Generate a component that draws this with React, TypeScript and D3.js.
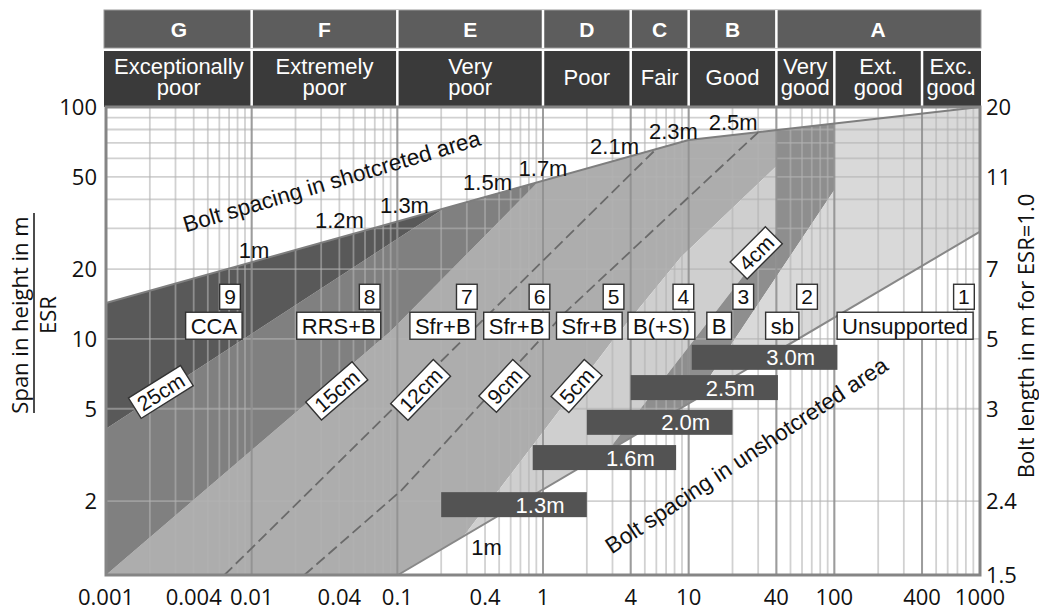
import React, { useRef, useEffect } from 'react';
import * as d3 from 'd3';

type Pt = [number, number];

// axes
const qTicks = [0.001, 0.004, 0.01, 0.04, 0.1, 0.4, 1, 4, 10, 40, 100, 400, 1000];
const spanTicks = [100, 50, 20, 10, 5, 2];
const spanGrid = [2, 5, 10, 20, 30, 40, 50, 60, 70, 80, 90, 100];
const boltLengthLabels = ['20', '11', '7', '5', '3', '2.4', '1.5'];
const boltLengthSpans = [100, 50, 20, 10, 5, 2, 0.96];

// rock mass classes (header)
const classLetters = ['G', 'F', 'E', 'D', 'C', 'B', 'A'];
const classBounds = [0.001, 0.01, 0.1, 1, 4, 10, 40, 1000];
const qualityNames = [
  ['Exceptionally', 'poor'], ['Extremely', 'poor'], ['Very', 'poor'], ['Poor'], ['Fair'],
  ['Good'], ['Very', 'good'], ['Ext.', 'good'], ['Exc.', 'good'],
];
const qualityBounds = [0.001, 0.01, 0.1, 1, 4, 10, 40, 100, 400, 1000];

// boundary lines  [Q, span/ESR]
const topLine: Pt[] = [[0.001, 14.3], [10, 72], [1000, 100]];
const lowerLine: Pt[] = [[0.101, 0.96], [1000, 29]];
const line12cm: Pt[] = [[0.0065, 0.96], [6, 66]];
const line9cm: Pt[] = [[0.023, 0.96], [0.107, 2.23], [1.4, 12.9], [30, 77.8]];

// support zones
const zoneCCA: Pt[] = [[0.001, 14.3], [0.21, 36.6], [0.001, 4.1]];
const zoneRRS: Pt[] = [[0.001, 4.1], [0.21, 36.6], [0.93, 47.6], [0.09, 10.8], [0.001, 0.96]];
const zoneSfr: Pt[] = [
  [0.001, 0.96], [0.09, 10.8], [0.93, 47.6], [10, 72], [40, 79.5], [40, 55.5],
  [8.9, 22.6], [2.95, 9.7], [0.285, 1.41], [0.101, 0.96],
];
const zoneBS: Pt[] = [[0.285, 1.41], [2.95, 9.7], [8.9, 22.6], [40, 55.5], [40, 28.6], [10.9, 9.93], [2.75, 3.26]];
const zoneB: Pt[] = [[40, 79.5], [100, 84.8], [100, 43.9], [20.6, 9.93], [10.8, 5.4], [2.75, 3.26], [10.9, 9.93], [40, 28.6]];
const zoneSb: Pt[] = [[100, 84.8], [1000, 100], [1000, 29], [10.8, 5.4], [20.6, 9.93], [100, 43.9]];

// bolt spacing in shotcreted area (along top line)
const shotSpacingLabels = ['1m', '1.2m', '1.3m', '1.5m', '1.7m', '2.1m', '2.3m', '2.5m'];
const shotSpacingQ = [0.0104, 0.04, 0.112, 0.416, 1.0, 3.1, 7.85, 20.2];
const shotSpacingSpan = [24.2, 32.6, 37.8, 47.5, 54.6, 67.9, 78.8, 86.2];

// bolt spacing in unshotcreted area (bars)
const barLabels = ['1.3m', '1.6m', '2.0m', '2.5m', '3.0m'];
const barFromQ = [0.2, 0.85, 2, 4, 10.5];
const barToQ = [2, 8.2, 20, 41, 105];
const barSpan = [1.93, 3.08, 4.37, 6.17, 8.33];

// support categories
const supportNumbers = ['9', '8', '7', '6', '5', '4', '3', '2', '1'];
const supportNumberQ = [0.0071, 0.0646, 0.3, 0.946, 3.05, 9.2, 23.7, 65, 776];
const supportCodes = ['CCA', 'RRS+B', 'Sfr+B', 'Sfr+B', 'Sfr+B', 'B(+S)', 'B', 'sb', 'Unsupported'];
const supportCodeQ = [0.0055, 0.0396, 0.205, 0.658, 2.08, 6.5, 16.2, 43.9, 306];

// shotcrete thickness
const shotcreteLabels = ['25cm', '15cm', '12cm', '9cm', '5cm', '4cm'];
const shotcreteQ = [0.00238, 0.0384, 0.1445, 0.545, 1.7, 29.1];
const shotcreteSpan = [5.91, 5.97, 6.03, 6.27, 6.27, 23.5];
const shotcreteAngle = [-32, -41, -46, -47, -48, -45];

const SANS = '"Liberation Sans", Arial, sans-serif';
const AXIS = '"Open Sans", sans-serif';

const App: React.FC = () => {
  const svgRef = useRef<SVGSVGElement>(null);

  useEffect(() => {
    if (!svgRef.current) return;
    const svg = d3.select(svgRef.current);
    svg.selectAll('*').remove();

    const x = d3.scaleLog().domain([0.001, 1000]).range([106, 980]);
    const y = d3.scaleLog().domain([0.96, 100]).range([575, 107]);
    const [x0, x1] = x.range();
    const yTop = y(100);
    const yBot = y(0.96);
    const path = d3.line<Pt>().x(d => x(d[0])).y(d => y(d[1]));

    // ---- header
    const hdr = svg.append('g');
    hdr.append('rect').attr('x', x0 - 2).attr('y', 10).attr('width', x1 - x0 + 3).attr('height', 38)
      .attr('fill', '#5d5d5d').attr('stroke', '#9a9a9a').attr('stroke-width', 1);
    hdr.append('rect').attr('x', x0 - 2).attr('y', 51).attr('width', x1 - x0 + 3).attr('height', 56)
      .attr('fill', '#3a3a3a');
    classBounds.slice(1, -1).forEach(b => {
      hdr.append('line').attr('x1', x(b)).attr('x2', x(b)).attr('y1', 10).attr('y2', 48)
        .attr('stroke', '#fff').attr('stroke-width', 2.5);
    });
    qualityBounds.slice(1, -1).forEach(b => {
      hdr.append('line').attr('x1', x(b)).attr('x2', x(b)).attr('y1', 51).attr('y2', 107)
        .attr('stroke', '#fff').attr('stroke-width', 2.5);
    });
    classLetters.forEach((c, i) => {
      hdr.append('text').attr('x', (x(classBounds[i]) + x(classBounds[i + 1])) / 2).attr('y', 37)
        .attr('text-anchor', 'middle').attr('fill', '#fff').attr('font-family', SANS)
        .attr('font-weight', 'bold').attr('font-size', 21).text(c);
    });
    qualityNames.forEach((lines, i) => {
      const cx = (x(qualityBounds[i]) + x(qualityBounds[i + 1])) / 2;
      const ys = lines.length === 1 ? [85] : [74, 95];
      lines.forEach((s, j) => {
        hdr.append('text').attr('x', cx).attr('y', ys[j]).attr('text-anchor', 'middle')
          .attr('fill', '#fff').attr('font-family', SANS).attr('font-size', 22).text(s);
      });
    });

    // ---- plot area
    const plot = svg.append('g');
    plot.append('rect').attr('x', x0).attr('y', yTop).attr('width', x1 - x0).attr('height', yBot - yTop)
      .attr('fill', '#fff');

    const zones: [Pt[], string][] = [
      [zoneSfr, '#adadad'], [zoneRRS, '#808080'], [zoneCCA, '#595959'],
      [zoneBS, '#cfcfcf'], [zoneB, '#8e8e8e'], [zoneSb, '#d9d9d9'],
    ];
    zones.forEach(([pts, color]) => {
      plot.append('path').attr('d', path(pts) + 'Z').attr('fill', color);
    });

    // grid
    const qGrid: number[] = [];
    for (let e = -3; e < 3; e++) for (let k = 1; k < 10; k++) qGrid.push(k * Math.pow(10, e));
    qGrid.push(1000);
    const grid = plot.append('g').attr('stroke', '#b3b3b3').attr('stroke-opacity', 0.6).attr('stroke-width', 1.8);
    qGrid.forEach(q => {
      grid.append('line').attr('x1', x(q)).attr('x2', x(q)).attr('y1', yTop).attr('y2', yBot);
    });
    spanGrid.forEach(s => {
      grid.append('line').attr('x1', x0).attr('x2', x1).attr('y1', y(s)).attr('y2', y(s));
    });
    qualityBounds.slice(1, -1).forEach(b => {
      plot.append('line').attr('x1', x(b)).attr('x2', x(b)).attr('y1', yTop).attr('y2', yBot)
        .attr('stroke', '#8a8a8a').attr('stroke-opacity', 0.75).attr('stroke-width', 2);
    });

    // boundary lines
    plot.append('path').attr('d', path(topLine)).attr('fill', 'none').attr('stroke', '#7e7e7e').attr('stroke-width', 2);
    plot.append('path').attr('d', path(lowerLine)).attr('fill', 'none').attr('stroke', '#888').attr('stroke-width', 2);
    [line12cm, line9cm].forEach(l => {
      plot.append('path').attr('d', path(l)).attr('fill', 'none').attr('stroke', '#6a6a6a')
        .attr('stroke-width', 1.8).attr('stroke-dasharray', '11,5');
    });

    plot.append('rect').attr('x', x0).attr('y', yTop).attr('width', x1 - x0).attr('height', yBot - yTop)
      .attr('fill', 'none').attr('stroke', '#858585').attr('stroke-width', 3);

    // bars: bolt spacing in unshotcreted area
    barLabels.forEach((lab, i) => {
      const bx = x(barFromQ[i]);
      const bw = x(barToQ[i]) - bx;
      const cy = y(barSpan[i]);
      plot.append('rect').attr('x', bx).attr('y', cy - 12.5).attr('width', bw).attr('height', 25).attr('fill', '#535353');
      plot.append('text').attr('x', bx + bw / 2 + 26).attr('y', cy + 8).attr('text-anchor', 'middle')
        .attr('fill', '#fff').attr('font-family', SANS).attr('font-size', 22).text(lab);
    });

    // boxed labels
    const boxed = (cx: number, cy: number, txt: string, size: number, pad: number, h: number, angle = 0) => {
      const g = plot.append('g').attr('transform', `translate(${cx},${cy}) rotate(${angle})`);
      const r = g.append('rect');
      const t = g.append('text').attr('text-anchor', 'middle').attr('y', size * 0.36)
        .attr('font-family', SANS).attr('font-size', size).attr('fill', '#111').text(txt);
      const w = (t.node() as SVGTextElement).getComputedTextLength();
      r.attr('x', -w / 2 - pad).attr('y', -h / 2).attr('width', w + 2 * pad).attr('height', h)
        .attr('fill', '#fff').attr('stroke', '#333').attr('stroke-width', 1.4);
    };
    supportNumbers.forEach((n, i) => boxed(x(supportNumberQ[i]), y(15.2), n, 21, 4.5, 25));
    supportCodes.forEach((c, i) => boxed(x(supportCodeQ[i]), y(11.4), c, 22, 5, 27));
    shotcreteLabels.forEach((c, i) =>
      boxed(x(shotcreteQ[i]), y(shotcreteSpan[i]), c, 21, 5, 24, shotcreteAngle[i]));

    // spacing labels along the top line
    shotSpacingLabels.forEach((s, i) => {
      plot.append('text').attr('x', x(shotSpacingQ[i])).attr('y', y(shotSpacingSpan[i]) + 8)
        .attr('text-anchor', 'middle').attr('font-family', SANS).attr('font-size', 22).attr('fill', '#111').text(s);
    });
    plot.append('text').attr('x', x(0.41)).attr('y', y(1.27) + 8).attr('text-anchor', 'middle')
      .attr('font-family', SANS).attr('font-size', 22).attr('fill', '#111').text('1m');

    plot.append('text').attr('transform', `translate(${x(0.0356)},${y(47.5)}) rotate(-16.5)`)
      .attr('text-anchor', 'middle').attr('dy', 7).attr('font-family', SANS).attr('font-size', 22.5)
      .attr('fill', '#111').text('Bolt spacing in shotcreted area');
    plot.append('text').attr('transform', `translate(${x(25.1)},${y(3.13)}) rotate(-33.7)`)
      .attr('text-anchor', 'middle').attr('dy', 7).attr('font-family', SANS).attr('font-size', 22.5)
      .attr('fill', '#111').text('Bolt spacing in unshotcreted area');

    // ---- axes labels
    const ax = svg.append('g').attr('font-family', AXIS).attr('font-size', 22).attr('fill', '#111');
    qTicks.forEach(q => {
      ax.append('text').attr('x', x(q)).attr('y', 605).attr('text-anchor', 'middle').text(String(q));
    });
    spanTicks.forEach(s => {
      ax.append('text').attr('x', 97).attr('y', y(s) + 8).attr('text-anchor', 'end').text(String(s));
    });
    boltLengthLabels.forEach((l, i) => {
      ax.append('text').attr('x', 986).attr('y', y(boltLengthSpans[i]) + 8).text(l);
    });

    ax.append('text').attr('transform', 'translate(28,315) rotate(-90)').attr('text-anchor', 'middle')
      .text('Span in height in m');
    ax.append('line').attr('x1', 34).attr('x2', 34).attr('y1', 213).attr('y2', 413)
      .attr('stroke', '#111').attr('stroke-width', 1.5);
    ax.append('text').attr('transform', 'translate(56,315) rotate(-90)').attr('text-anchor', 'middle')
      .text('ESR');
    ax.append('text').attr('transform', 'translate(1034,336) rotate(-90)').attr('text-anchor', 'middle')
      .text('Bolt length in m for ESR=1.0');
  }, []);

  return (
    <svg
      ref={svgRef}
      width={1039}
      height={610}
      style={{ position: 'absolute', left: 0, top: 0, background: '#fff' }}
    />
  );
};

export default App;
